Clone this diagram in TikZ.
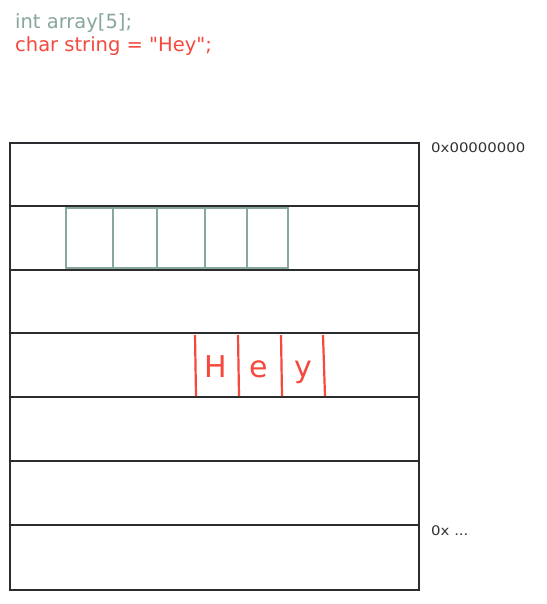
\documentclass[tikz,border=0pt]{standalone}
\usepackage{fontspec}
\setmainfont{DejaVu Sans}
\newfontfamily\codefont{DejaVu Sans}
\newfontfamily\addrfont{DejaVu Sans}[FakeStretch=1.13]
\definecolor{ink}{HTML}{2B2B30}
\definecolor{arrgreen}{HTML}{86A79A}
\definecolor{strred}{HTML}{F5493D}
\definecolor{labgray}{HTML}{333333}
\begin{document}
\begin{tikzpicture}[x=1pt,y=-1pt,
  memline/.style={draw=ink,line width=2.2pt},
  arrcell/.style={draw=arrgreen,line width=2.2pt},
  strline/.style={draw=strred,line width=2.2pt},
  code/.style={anchor=base west,inner sep=0pt,font=\codefont\fontsize{19.5}{19.5}\selectfont},
  addr/.style={anchor=base west,inner sep=0pt,font=\addrfont\fontsize{13.2}{13.2}\selectfont,text=labgray},
  chr/.style={inner sep=0pt,font=\fontsize{30}{30}\selectfont,text=strred}]
\useasboundingbox (0,0) rectangle (546,604);
\fill[white] (0,0) rectangle (546,604);
% code text
\node[code,text=arrgreen] (c1) at (15,29) {int array[5];};
\node[code,text=strred] (c2) at (15,52) {char string = "Hey";};
% memory rows
\foreach \y in {206,270,333,397,461,525} \draw[memline] (10,\y) -- (419,\y);
\draw[memline] (10,143) rectangle (419,590);
% array cells
\draw[arrcell] (66,208) rectangle (288,268);
\foreach \x in {113,157,205,247} \draw[arrcell] (\x,208) -- (\x,268);
% string cells
\draw[strline] (195,335) -- (196,396);
\draw[strline] (238,335) -- (239,396);
\draw[strline] (281,335) -- (282,396);
\draw[strline] (323,335) -- (325,396);
\node[chr,anchor=base] (h) at (215.5,377) {H};
\node[chr,anchor=base] (e) at (258.5,377) {e};
\node[chr,anchor=base] (yy) at (303,377) {y};
% address labels
\node[addr] (a0) at (431,152.5) {0x00000000};
\node[addr] (a1) at (431,535) {0x ...};
\end{tikzpicture}
\end{document}
